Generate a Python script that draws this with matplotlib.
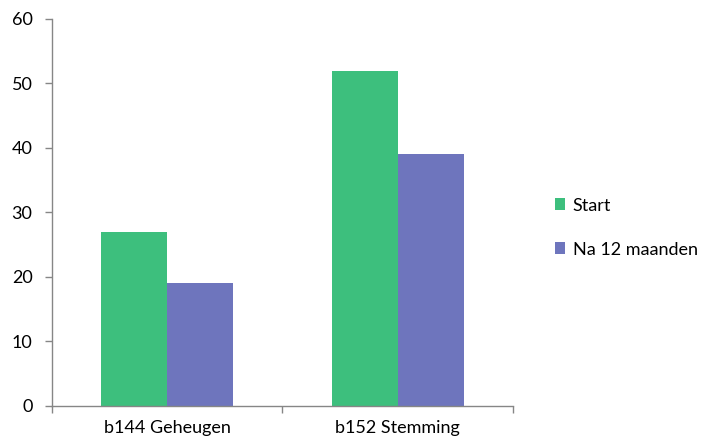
import numpy as np
import matplotlib.pyplot as plt

plt.rcParams['font.family'] = ['Lato', 'DejaVu Sans']

categories = ["b144 Geheugen", "b152 Stemming"]
start = [27, 52]
na_12 = [19, 39]
series_names = ["Start", "Na 12 maanden"]
colors = ["#3dbf7d", "#6e75bd"]
yticks = [0, 10, 20, 30, 40, 50, 60]

fig = plt.figure(figsize=(7.11, 4.48), dpi=100)
ax = fig.add_axes([0.0731, 0.0938, 0.6484, 0.8638])

x = np.arange(len(categories))
w = 0.286
ax.bar(x - w / 2, start, w, color=colors[0], label=series_names[0])
ax.bar(x + w / 2, na_12, w, color=colors[1], label=series_names[1])

ax.set_xlim(-0.5, len(categories) - 0.5)
ax.set_ylim(0, 60)
ax.set_yticks(yticks)
ax.set_xticks(np.arange(len(categories) + 1) - 0.5)
ax.set_xticklabels([])
ax.set_xticks(x, minor=True)
ax.set_xticklabels(categories, minor=True, fontsize=13)
ax.tick_params(axis='x', which='minor', length=0, pad=10)
ax.tick_params(axis='x', which='major', length=5, color='#868686', width=1)
ax.tick_params(axis='y', length=5, color='#868686', width=1, labelsize=13, pad=9)

for side in ['top', 'right']:
    ax.spines[side].set_visible(False)
for side in ['left', 'bottom']:
    ax.spines[side].set_color('#868686')
    ax.spines[side].set_linewidth(1)

ax.legend(loc='center left', bbox_to_anchor=(1.055, 0.461), frameon=False,
          fontsize=13, handlelength=0.6, handleheight=0.6, handletextpad=0.4,
          labelspacing=1.55)

fig.savefig("out.png", dpi=100)
